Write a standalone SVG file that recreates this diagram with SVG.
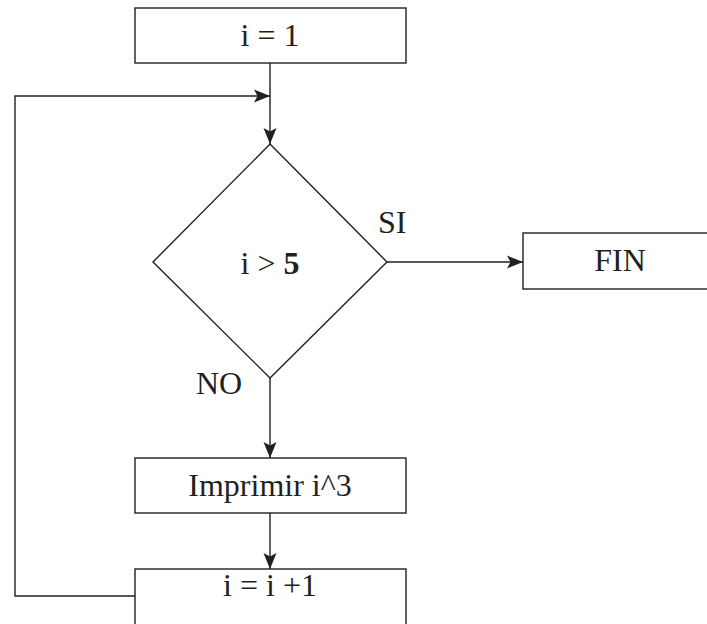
<svg xmlns="http://www.w3.org/2000/svg" width="707" height="624" viewBox="0 0 707 624">
<defs>
<style>
.box{fill:#fff;stroke:#231f20;stroke-width:1.4}
.ln{fill:none;stroke:#231f20;stroke-width:1.4}
.t{font-family:"Liberation Serif","Times New Roman",serif;font-size:32px;fill:#231f20;text-anchor:middle}
.lbl{font-family:"Liberation Serif","Times New Roman",serif;font-size:32px;fill:#231f20}
</style>
<marker id="ah" markerUnits="userSpaceOnUse" markerWidth="18" markerHeight="14" refX="16" refY="7" orient="auto">
<path d="M0,0.5 L16,7 L0,13.5 L3.5,7 Z" fill="#231f20"/>
</marker>
</defs>
<rect width="707" height="624" fill="#fff"/>
<g id="connectors">
<line class="ln" x1="270" y1="63" x2="270" y2="144" marker-end="url(#ah)"/>
<polyline class="ln" points="135,596 15,596 15,96 270,96" marker-end="url(#ah)"/>
<line class="ln" x1="387" y1="262" x2="523" y2="262" marker-end="url(#ah)"/>
<line class="ln" x1="270" y1="378" x2="270" y2="458" marker-end="url(#ah)"/>
<line class="ln" x1="270" y1="513" x2="270" y2="569" marker-end="url(#ah)"/>
<text class="lbl" x="378" y="233">SI</text>
<text class="lbl" x="196" y="394">NO</text>
</g>
<g id="start">
<rect class="box" x="135" y="8" width="271" height="55"/>
<text class="t" x="270" y="46">i = 1</text>
</g>
<g id="decision">
<polygon class="box" points="270,144 387,262 270,378 153,262"/>
<text class="t" x="270" y="274">i &gt; <tspan font-weight="bold">5</tspan></text>
</g>
<g id="fin">
<rect class="box" x="523" y="233" width="200" height="56"/>
<text class="t" x="620" y="271">FIN</text>
</g>
<g id="print">
<rect class="box" x="135" y="458" width="271" height="55"/>
<text class="t" x="270" y="496">Imprimir i^3</text>
</g>
<g id="increment">
<rect class="box" x="135" y="569" width="271" height="70"/>
<text class="t" x="270" y="596">i = i +1</text>
</g>
</svg>
